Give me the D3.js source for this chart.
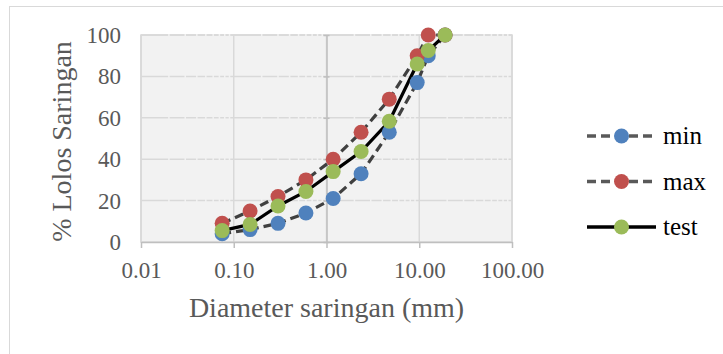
<html>
<head>
<script src="https://cdnjs.cloudflare.com/ajax/libs/d3/7.8.5/d3.min.js"></script>
<style>
  body { margin: 0; background: #fff; }
  text { font-family: "Liberation Serif", "Times New Roman", serif; }
</style>
</head>
<body>
<svg id="chart"></svg>
<script>
    // sieve sizes (mm) and % passing
    var sizes = [0.075, 0.15, 0.3, 0.6, 1.18, 2.36, 4.75, 9.5, 12.5, 19];
    var minVals = [4, 6, 9, 14, 21, 33, 53, 77, 90, 100];
    var maxVals = [9, 15, 22, 30, 40, 53, 69, 90, 100, 100];
    var testVals = [5.5, 8.5, 17.4, 24.4, 34, 43.7, 58.3, 86, 92.5, 100];
    var xTicks = [0.01, 0.1, 1, 10, 100];
    var yTicks = [0, 20, 40, 60, 80, 100];

    var series = [
        {name: "min", values: minVals, color: "#4f81bd", line: "#404040", dash: "9,5"},
        {name: "max", values: maxVals, color: "#c0504d", line: "#404040", dash: "9,5"},
        {name: "test", values: testVals, color: "#9bbb59", line: "#000000", dash: null}
    ];

    var width = 723, height = 354;
    var pL = 141, pR = 512, pT = 35, pB = 242;

    var svg = d3.select("#chart")
        .attr("width", width)
        .attr("height", height);

    // outer chart border
    svg.append("rect")
        .attr("x", 9.5).attr("y", 6.5)
        .attr("width", 740).attr("height", 400)
        .attr("fill", "#fff")
        .attr("stroke", "#d9d9d9");

    var x = d3.scaleLog().domain([0.01, 100]).range([pL, pR]);
    var y = d3.scaleLinear().domain([0, 100]).range([pB, pT]);

    // plot area
    svg.append("rect")
        .attr("x", pL).attr("y", pT)
        .attr("width", pR - pL).attr("height", pB - pT)
        .attr("fill", "#f2f2f2")
        .attr("stroke", "#d9d9d9")
        .attr("stroke-width", 1.5);

    // horizontal grid
    svg.append("g").selectAll("line")
        .data(yTicks.slice(1))
        .enter().append("line")
        .attr("x1", pL).attr("x2", pR)
        .attr("y1", function(d) { return y(d); })
        .attr("y2", function(d) { return y(d); })
        .attr("stroke", "#d9d9d9")
        .attr("stroke-width", 1.5);

    // minor vertical lines (background colour, break up the grid)
    var minor = [];
    xTicks.slice(0, -1).forEach(function(t) {
        for (var k = 2; k < 10; k++) minor.push(t * k);
    });
    svg.append("g").selectAll("line")
        .data(minor)
        .enter().append("line")
        .attr("x1", function(d) { return x(d); })
        .attr("x2", function(d) { return x(d); })
        .attr("y1", pT - 1).attr("y2", pB - 1)
        .attr("stroke", "#f2f2f2")
        .attr("stroke-width", 1.5);

    // major vertical grid
    svg.append("g").selectAll("line")
        .data(xTicks)
        .enter().append("line")
        .attr("x1", function(d) { return x(d); })
        .attr("x2", function(d) { return x(d); })
        .attr("y1", pT).attr("y2", pB)
        .attr("stroke", "#d9d9d9")
        .attr("stroke-width", 1.5);

    // x axis
    var xAxis = svg.append("g")
        .attr("transform", "translate(0," + pB + ")")
        .call(d3.axisBottom(x).tickValues(xTicks).tickSize(6).tickSizeOuter(0)
            .tickFormat(d3.format(".2f")));
    xAxis.select(".domain").attr("stroke", "#bfbfbf").attr("stroke-width", 1.5);
    xAxis.selectAll(".tick line").attr("stroke", "#bfbfbf").attr("stroke-width", 1.5);
    xAxis.selectAll(".tick text")
        .attr("y", 36)
        .attr("dy", 0)
        .attr("fill", "#595959")
        .style("font-size", "23px")
        .style("font-family", "Liberation Serif");

    // y axis line crossing at x = 1
    var yAxis = svg.append("g")
        .attr("transform", "translate(" + x(1) + ",0)")
        .call(d3.axisLeft(y).tickValues(yTicks).tickSize(3).tickSizeOuter(0).tickFormat(""));
    yAxis.select(".domain").attr("stroke", "#bfbfbf").attr("stroke-width", 1.5);
    yAxis.selectAll(".tick line").attr("stroke", "#bfbfbf").attr("stroke-width", 1.5)
        .attr("x1", 3);

    svg.append("g").selectAll("text")
        .data(yTicks)
        .enter().append("text")
        .attr("x", 121)
        .attr("y", function(d) { return y(d) + 8; })
        .attr("text-anchor", "end")
        .attr("fill", "#595959")
        .style("font-size", "23px")
        .text(function(d) { return d; });

    // titles
    svg.append("text")
        .attr("x", (pL + pR) / 2)
        .attr("y", 317)
        .attr("text-anchor", "middle")
        .attr("fill", "#595959")
        .style("font-size", "28px")
        .text("Diameter saringan (mm)");

    svg.append("text")
        .attr("transform", "translate(71," + ((pT + pB) / 2 + 3) + ") rotate(-90)")
        .attr("text-anchor", "middle")
        .attr("fill", "#595959")
        .style("font-size", "28px")
        .text("% Lolos Saringan");

    // series
    var line = d3.line()
        .x(function(d) { return x(d[0]); })
        .y(function(d) { return y(d[1]); });

    series.forEach(function(s) {
        var pts = sizes.map(function(v, i) { return [v, s.values[i]]; });
        svg.append("path")
            .datum(pts)
            .attr("d", line)
            .attr("fill", "none")
            .attr("stroke", s.line)
            .attr("stroke-width", 3.2)
            .attr("stroke-dasharray", s.dash);
    });

    series.forEach(function(s) {
        svg.append("g").selectAll("circle")
            .data(sizes.map(function(v, i) { return [v, s.values[i]]; }))
            .enter().append("circle")
            .attr("cx", function(d) { return x(d[0]); })
            .attr("cy", function(d) { return y(d[1]); })
            .attr("r", 7.5)
            .attr("fill", s.color);
    });

    // legend
    var legend = svg.append("g").selectAll("g")
        .data(series)
        .enter().append("g")
        .attr("transform", function(d, i) { return "translate(0," + (136 + i * 45.5) + ")"; });
    legend.append("line")
        .attr("x1", 587).attr("x2", 656)
        .attr("stroke", function(d) { return d.line === "#000000" ? "#000" : "#595959"; })
        .attr("stroke-width", 3.5)
        .attr("stroke-dasharray", function(d) { return d.dash ? "9,5" : null; });
    legend.append("circle")
        .attr("cx", 621.5).attr("r", 7.5)
        .attr("fill", function(d) { return d.color; });
    legend.append("text")
        .attr("x", 663).attr("y", 8)
        .attr("fill", "#000")
        .style("font-size", "25px")
        .text(function(d) { return d.name; });
</script>
</body>
</html>
